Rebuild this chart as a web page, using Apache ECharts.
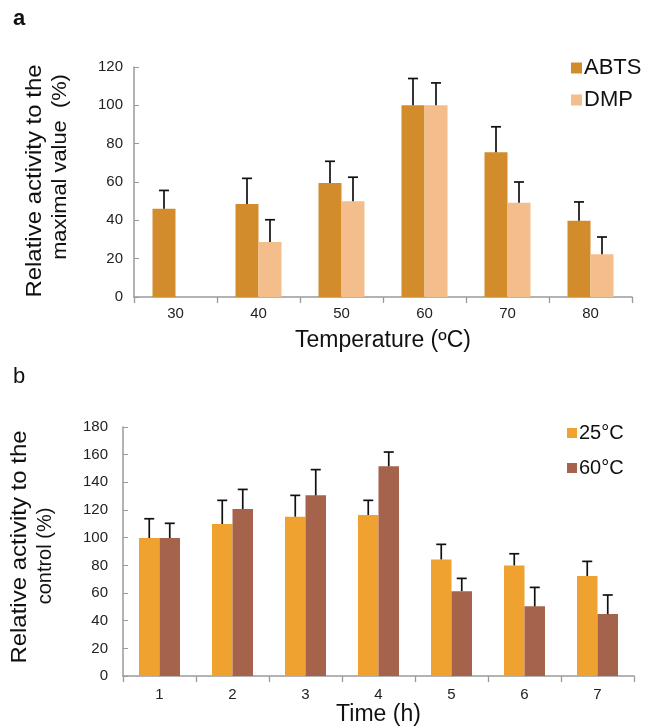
<!DOCTYPE html>
<html>
<head>
<meta charset="utf-8">
<script src="https://cdn.jsdelivr.net/npm/echarts@6/dist/echarts.min.js"></script>
<style>
  html, body { margin: 0; padding: 0; background: #fff; }
  #chart { width: 649px; height: 727px; }
</style>
</head>
<body>
<div id="chart"></div>
<script>
  // panel a : temperature
  const tempCats = ['30', '40', '50', '60', '70', '80'];
  const abtsVals = [46, 48.5, 59.5, 100, 75.5, 39.8];
  const abtsErr = [9.6, 13.4, 11.3, 14, 13.3, 9.8];
  const dmpVals = [null, 28.7, 50, 100, 49.2, 22.3];
  const dmpErr = [null, 11.6, 12.5, 11.7, 10.8, 9];
  const ticksA = { min: 0, max: 120, interval: 20 };

  // panel b : time
  const timeCats = ['1', '2', '3', '4', '5', '6', '7'];
  const t25Vals = [99.8, 109.9, 115.2, 116.4, 84.3, 80, 72.3];
  const t25Err = [13.9, 17.1, 15.4, 10.6, 10.9, 8.4, 10.6];
  const t60Vals = [99.8, 120.7, 130.6, 151.6, 61.4, 50.4, 44.8];
  const t60Err = [10.6, 14.2, 18.6, 10.3, 9.2, 13.7, 13.8];
  const ticksB = { min: 0, max: 180, interval: 20 };

  const font = 'Liberation Sans, Arial, sans-serif';
  const axisGray = '#9a9a9a';

  // upper error bar drawn from bar top, shifted to the bar's centre
  function errorBars(axisIdx, vals, errs, offset) {
    const data = [];
    vals.forEach(function (v, i) {
      if (v != null) data.push([i, v, v + errs[i]]);
    });
    return {
      type: 'custom',
      xAxisIndex: axisIdx,
      yAxisIndex: axisIdx,
      z: 5,
      silent: true,
      data: data,
      renderItem: function (params, api) {
        const base = api.coord([api.value(0), api.value(1)]);
        const top = api.coord([api.value(0), api.value(2)]);
        const x = base[0] + offset;
        const st = { stroke: '#111', lineWidth: 1.7 };
        return {
          type: 'group',
          children: [
            { type: 'line', shape: { x1: x, y1: base[1], x2: x, y2: top[1] }, style: st },
            { type: 'line', shape: { x1: x - 5, y1: top[1], x2: x + 5, y2: top[1] }, style: st }
          ]
        };
      }
    };
  }

  function catAxis(idx, cats, name, gap, labelMargin) {
    return {
      type: 'category', gridIndex: idx, data: cats,
      name: name, nameLocation: 'middle', nameGap: gap,
      nameTextStyle: { fontFamily: font, fontSize: 23, color: '#111' },
      axisLine: { lineStyle: { color: axisGray, width: 1.5 } },
      axisTick: { show: true, length: 6, lineStyle: { color: axisGray, width: 1.3 } },
      axisLabel: { fontFamily: font, fontSize: 15, color: '#222', margin: labelMargin }
    };
  }

  function valAxis(idx, t, labelMargin) {
    return {
      type: 'value', gridIndex: idx, min: t.min, max: t.max, interval: t.interval,
      splitLine: { show: false },
      axisLine: { show: true, lineStyle: { color: axisGray, width: 1.5 } },
      axisTick: { show: true, inside: true, length: 5, lineStyle: { color: axisGray } },
      axisLabel: { fontFamily: font, fontSize: 15, color: '#222', margin: labelMargin }
    };
  }

  // rotated axis title line; sx stretches it along its reading direction
  function vText(x, y, txt, size, sx) {
    return {
      type: 'text', x: x, y: y, rotation: Math.PI / 2, scaleX: sx, scaleY: 1,
      style: { text: txt, font: size + 'px ' + font, fill: '#111', align: 'center', verticalAlign: 'middle' }
    };
  }

  const bwA = 23, bwB = 20.5;
  const cA1 = '#D28C2C', cA2 = '#F4BE8C';
  const cB1 = '#EFA22F', cB2 = '#A5634B';

  const chart = echarts.init(document.getElementById('chart'), null, { renderer: 'canvas' });
  chart.setOption({
    animation: false,
    backgroundColor: '#fff',
    grid: [
      { left: 134, top: 67, width: 498, height: 230 },
      { left: 123, top: 427, width: 511, height: 250 }
    ],
    xAxis: [
      catAxis(0, tempCats, 'Temperature (ºC)', 32, 9),
      catAxis(1, timeCats, 'Time (h)', 25, 11)
    ],
    yAxis: [
      valAxis(0, ticksA, 11),
      valAxis(1, ticksB, 15)
    ],
    legend: [
      {
        data: ['ABTS', 'DMP'], orient: 'vertical', left: 566, top: 52,
        icon: 'rect', itemWidth: 11, itemHeight: 11, itemGap: 10,
        textStyle: { fontFamily: font, fontSize: 22, color: '#111', padding: [0, 0, 0, -3] }
      },
      {
        data: ['25°C', '60°C'], orient: 'vertical', left: 562, top: 418,
        icon: 'rect', itemWidth: 10, itemHeight: 10, itemGap: 15,
        textStyle: { fontFamily: font, fontSize: 20, color: '#111', padding: [0, 0, 0, -3] }
      }
    ],
    graphic: [
      { type: 'text', left: 13, top: 8, style: { text: 'a', font: 'bold 22px ' + font, fill: '#111' } },
      { type: 'text', left: 13, top: 366, style: { text: 'b', font: '22px ' + font, fill: '#111' } },
      vText(35, 181, 'Relative activity to the', 22, 1.09),
      vText(60, 167, 'maximal value  (%)', 21, 1.04),
      vText(20, 547, 'Relative activity to the', 22, 1.09),
      vText(45, 556, 'control (%)', 20, 1)
    ],
    series: [
      { name: 'ABTS', type: 'bar', xAxisIndex: 0, yAxisIndex: 0, data: abtsVals,
        barWidth: bwA, barGap: '0%', itemStyle: { color: cA1 } },
      { name: 'DMP', type: 'bar', xAxisIndex: 0, yAxisIndex: 0, data: dmpVals,
        barWidth: bwA, barGap: '0%', itemStyle: { color: cA2 } },
      errorBars(0, abtsVals, abtsErr, -bwA / 2),
      errorBars(0, dmpVals, dmpErr, bwA / 2),
      { name: '25°C', type: 'bar', xAxisIndex: 1, yAxisIndex: 1, data: t25Vals,
        barWidth: bwB, barGap: '0%', itemStyle: { color: cB1 } },
      { name: '60°C', type: 'bar', xAxisIndex: 1, yAxisIndex: 1, data: t60Vals,
        barWidth: bwB, barGap: '0%', itemStyle: { color: cB2 } },
      errorBars(1, t25Vals, t25Err, -bwB / 2),
      errorBars(1, t60Vals, t60Err, bwB / 2)
    ]
  });
  window.addEventListener('resize', function () { chart.resize(); });
</script>
</body>
</html>
